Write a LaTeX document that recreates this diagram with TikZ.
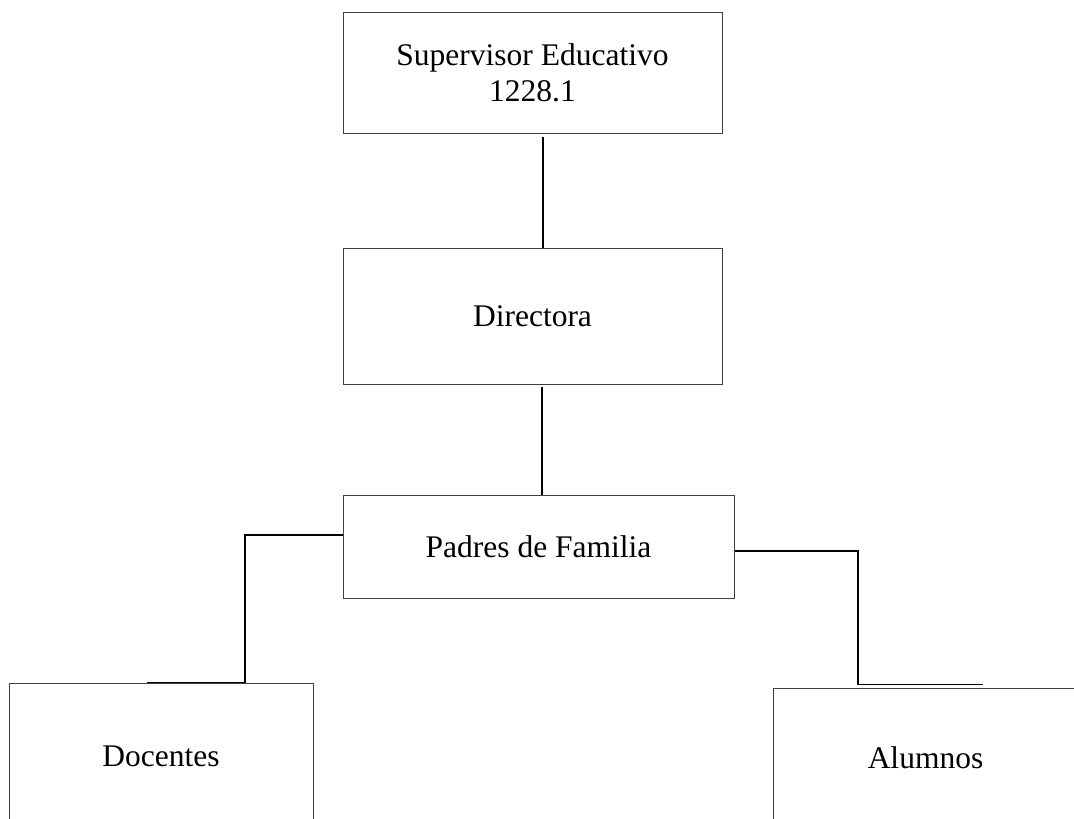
\documentclass[tikz,border=0pt]{standalone}
\usepackage{fontspec}
\setmainfont{Liberation Serif}
\begin{document}
\begin{tikzpicture}[x=1pt,y=-1pt,
  orgbox/.style={draw=black!75, line width=1pt, rectangle, inner sep=0pt, align=center,
    font=\fontsize{31.5}{36.4}\selectfont},
  link/.style={draw=black, line width=1.7pt}]
\clip (0,0) rectangle (1074,819);
\fill[white] (0,0) rectangle (1074,819);
\node[orgbox, minimum width=379pt, minimum height=121pt] (sup) at (532.5,72.5) {Supervisor Educativo\\1228.1};
\node[orgbox, minimum width=379pt, minimum height=136pt] (dir) at (532.5,316) {Directora};
\node[orgbox, minimum width=391pt, minimum height=103pt] (pad) at (538.5,546.5) {Padres de Familia};
\node[orgbox, minimum width=304pt, minimum height=146pt] (doc) at (161,756) {Docentes};
\node[orgbox, minimum width=305pt, minimum height=139pt] (alu) at (925.5,757.5) {Alumnos};
\draw[link] ([xshift=10.5pt,yshift=-3pt]sup.south) -- ([xshift=10.5pt]dir.north);
\draw[link] ([xshift=9.5pt,yshift=-2pt]dir.south) -- ([xshift=9.5pt]dir.south |- pad.north);
\draw[link] ([yshift=11.5pt]pad.west) -| ([xshift=84pt]doc.north) -- ([xshift=-14pt]doc.north);
\draw[link] ([yshift=-4.5pt]pad.east) -| ([xshift=-67.5pt,yshift=3pt]alu.north) -- ([xshift=57.5pt,yshift=3pt]alu.north);
\end{tikzpicture}
\end{document}
